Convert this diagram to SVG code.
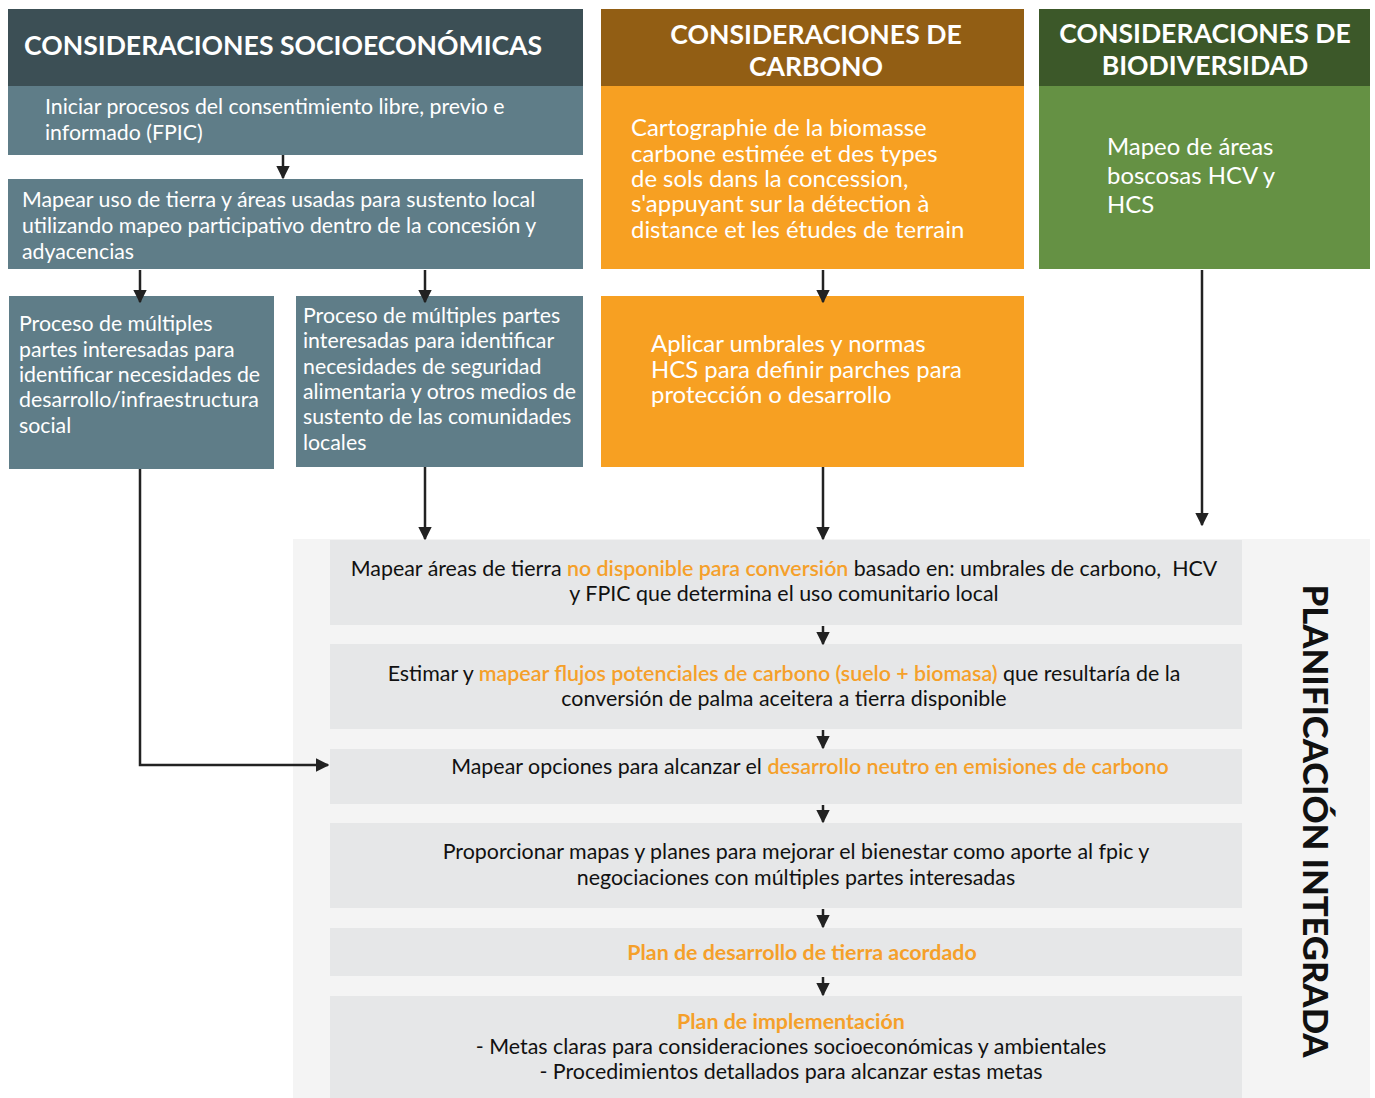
<svg xmlns="http://www.w3.org/2000/svg" width="1375" height="1098" viewBox="0 0 1375 1098">
<style>
text{font-family:Lato,"Open Sans","Liberation Sans",sans-serif}
.hd{fill:#fff;font-size:26.6px;font-weight:bold}
.wt{fill:#fff;font-size:21.3px}
.cw{fill:#fff;font-size:23.9px}
.st{fill:#111;font-size:21.4px}
.or{fill:#f5a02a;font-weight:600}
.ob{fill:#f5a02a;font-weight:bold}
.step{fill:#e6e7e8}
.conn{stroke:#222;stroke-width:2.5;fill:none}
</style>
<defs>
<marker id="ah" viewBox="0 0 10 10" refX="9" refY="5" markerWidth="5.5" markerHeight="5.5" markerUnits="strokeWidth" orient="auto">
<path d="M0,0 L10,5 L0,10 z" fill="#222"/>
</marker>
</defs>
<rect width="1375" height="1098" fill="#fff"/>
<rect x="293" y="539" width="1077" height="559" fill="#f4f4f4"/>

<g id="hdr-socio">
<rect x="8" y="9" width="575" height="77" fill="#3c4f55"/>
<text class="hd" x="24" y="55">CONSIDERACIONES SOCIOECONÓMICAS</text>
</g>
<g id="hdr-carbono">
<rect x="601" y="9" width="423" height="77" fill="#925e14"/>
<text class="hd" x="816" y="44" text-anchor="middle">CONSIDERACIONES DE</text>
<text class="hd" x="816" y="76" text-anchor="middle">CARBONO</text>
</g>
<g id="hdr-bio">
<rect x="1039" y="9" width="331" height="77" fill="#3c5829"/>
<text class="hd" x="1205" y="43" text-anchor="middle">CONSIDERACIONES DE</text>
<text class="hd" x="1205" y="75" text-anchor="middle">BIODIVERSIDAD</text>
</g>

<g id="n-fpic">
<rect x="8" y="86" width="575" height="69" fill="#5f7d88"/>
<text class="wt" x="45" y="114">Iniciar procesos del consentimiento libre, previo e</text>
<text class="wt" x="45" y="140">informado (FPIC)</text>
</g>
<g id="n-mapear-uso">
<rect x="8" y="179" width="575" height="90" fill="#5f7d88"/>
<text class="wt" x="22" y="207">Mapear uso de tierra y áreas usadas para sustento local</text>
<text class="wt" x="22" y="233">utilizando mapeo participativo dentro de la concesión y</text>
<text class="wt" x="22" y="259">adyacencias</text>
</g>
<g id="n-infra">
<rect x="9" y="296" width="265" height="173" fill="#5f7d88"/>
<text class="wt" x="19" y="331">Proceso de múltiples</text>
<text class="wt" x="19" y="357">partes interesadas para</text>
<text class="wt" x="19" y="382">identificar necesidades de</text>
<text class="wt" x="19" y="407">desarrollo/infraestructura</text>
<text class="wt" x="19" y="433">social</text>
</g>
<g id="n-alimentaria">
<rect x="296" y="296" width="287" height="171" fill="#5f7d88"/>
<text class="wt" x="303" y="323">Proceso de múltiples partes</text>
<text class="wt" x="303" y="348">interesadas para identificar</text>
<text class="wt" x="303" y="374">necesidades de seguridad</text>
<text class="wt" x="303" y="399">alimentaria y otros medios de</text>
<text class="wt" x="303" y="424">sustento de las comunidades</text>
<text class="wt" x="303" y="450">locales</text>
</g>
<g id="n-cartographie">
<rect x="601" y="86" width="423" height="183" fill="#f7a022"/>
<text class="cw" x="631" y="136">Cartographie de la biomasse</text>
<text class="cw" x="631" y="162">carbone estimée et des types</text>
<text class="cw" x="631" y="187">de sols dans la concession,</text>
<text class="cw" x="631" y="212">s'appuyant sur la détection à</text>
<text class="cw" x="631" y="238">distance et les études de terrain</text>
</g>
<g id="n-aplicar">
<rect x="601" y="296" width="423" height="171" fill="#f7a022"/>
<text class="cw" x="651" y="352">Aplicar umbrales y normas</text>
<text class="cw" x="651" y="378">HCS para definir parches para</text>
<text class="cw" x="651" y="403">protección o desarrollo</text>
</g>
<g id="n-bosques">
<rect x="1039" y="86" width="331" height="183" fill="#659144"/>
<text class="cw" x="1107" y="155">Mapeo de áreas</text>
<text class="cw" x="1107" y="184">boscosas HCV y</text>
<text class="cw" x="1107" y="213">HCS</text>
</g>

<g id="n-step1">
<rect class="step" x="330" y="540" width="912" height="85"/>
<text class="st" x="784" y="576" text-anchor="middle">Mapear áreas de tierra <tspan class="or">no disponible para conversión</tspan> basado en: umbrales de carbono,&#160; HCV</text>
<text class="st" x="784" y="601" text-anchor="middle">y FPIC que determina el uso comunitario local</text>
</g>
<g id="n-step2">
<rect class="step" x="330" y="644" width="912" height="85"/>
<text class="st" x="784" y="681" text-anchor="middle">Estimar y <tspan class="or">mapear flujos potenciales de carbono (suelo + biomasa)</tspan> que resultaría de la</text>
<text class="st" x="784" y="706" text-anchor="middle">conversión de palma aceitera a tierra disponible</text>
</g>
<g id="n-step3">
<rect class="step" x="330" y="749" width="912" height="55"/>
<text class="st" x="810" y="774" text-anchor="middle">Mapear opciones para alcanzar el <tspan class="or">desarrollo neutro en emisiones de carbono</tspan></text>
</g>
<g id="n-step4">
<rect class="step" x="330" y="823" width="912" height="85"/>
<text class="st" x="796" y="859" text-anchor="middle">Proporcionar mapas y planes para mejorar el bienestar como aporte al fpic y</text>
<text class="st" x="796" y="885" text-anchor="middle">negociaciones con múltiples partes interesadas</text>
</g>
<g id="n-step5">
<rect class="step" x="330" y="928" width="912" height="48"/>
<text class="st ob" x="802" y="960" text-anchor="middle">Plan de desarrollo de tierra acordado</text>
</g>
<g id="n-step6">
<rect class="step" x="330" y="996" width="912" height="102"/>
<text class="st ob" x="791" y="1029" text-anchor="middle">Plan de implementación</text>
<text class="st" x="791" y="1054" text-anchor="middle">- Metas claras para consideraciones socioeconómicas y ambientales</text>
<text class="st" x="791" y="1079" text-anchor="middle">- Procedimientos detallados para alcanzar estas metas</text>
</g>

<g id="label-planificacion">
<text x="1316" y="821" transform="rotate(90 1316 821)" text-anchor="middle" dominant-baseline="central" style="font-size:34.6px;font-weight:900;fill:#111">PLANIFICACIÓN INTEGRADA</text>
</g>

<g id="connectors" class="conn" marker-end="url(#ah)">
<line x1="283" y1="155" x2="283" y2="178"/>
<line x1="140" y1="270" x2="140" y2="302"/>
<line x1="425" y1="270" x2="425" y2="302"/>
<line x1="823" y1="270" x2="823" y2="302"/>
<line x1="1202" y1="270" x2="1202" y2="525"/>
<line x1="425" y1="467" x2="425" y2="539"/>
<line x1="823" y1="467" x2="823" y2="539"/>
<polyline points="140,469 140,765 328,765"/>
<line x1="823" y1="626" x2="823" y2="644"/>
<line x1="823" y1="730" x2="823" y2="748"/>
<line x1="823" y1="805" x2="823" y2="822"/>
<line x1="823" y1="909" x2="823" y2="927"/>
<line x1="823" y1="977" x2="823" y2="995"/>
</g>
</svg>
